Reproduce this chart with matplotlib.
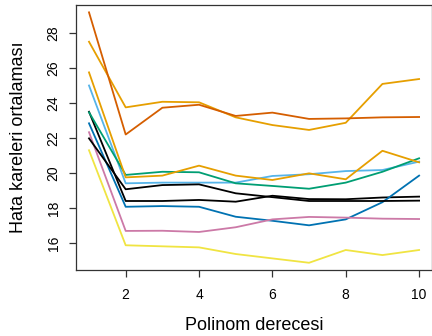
import matplotlib
matplotlib.use("Agg")
import matplotlib.pyplot as plt

plt.rcParams['font.family'] = ['Liberation Sans', 'DejaVu Sans']

degree = list(range(1, 11))

# one line per repetition of the CV split (Okabe-Ito colours, recycled)
mse = [
    [23.50, 18.40, 18.40, 18.46, 18.36, 18.70, 18.51, 18.50, 18.60, 18.65],
    [27.50, 23.75, 24.07, 24.04, 23.18, 22.74, 22.46, 22.87, 25.09, 25.37],
    [25.00, 19.41, 19.45, 19.45, 19.45, 19.83, 19.93, 20.11, 20.17, 20.65],
    [23.47, 19.89, 20.07, 20.04, 19.41, 19.26, 19.10, 19.45, 20.07, 20.84],
    [21.30, 15.87, 15.81, 15.75, 15.37, 15.12, 14.87, 15.60, 15.31, 15.60],
    [22.84, 18.07, 18.11, 18.07, 17.50, 17.27, 17.01, 17.35, 18.33, 19.85],
    [29.18, 22.20, 23.73, 23.90, 23.26, 23.45, 23.09, 23.12, 23.18, 23.20],
    [22.33, 16.69, 16.70, 16.63, 16.90, 17.35, 17.49, 17.45, 17.39, 17.37],
    [21.98, 19.07, 19.31, 19.35, 18.84, 18.62, 18.40, 18.40, 18.40, 18.42],
    [25.75, 19.75, 19.85, 20.42, 19.85, 19.60, 19.98, 19.64, 21.27, 20.61],
]
colors = ['black', '#E69F00', '#56B4E9', '#009E73', '#F0E442',
          '#0072B2', '#D55E00', '#CC79A7', 'black', '#E69F00']

fig = plt.figure(figsize=(4.32, 3.36), dpi=100)
ax = fig.add_axes([75.8 / 432, 66 / 336, 356.5 / 432, 265 / 336])

for y, c in zip(mse, colors):
    ax.plot(degree, y, color=c, lw=1.3)

ax.set_xlim(0.64, 10.36)
ax.set_ylim(14.457, 29.6)
ax.set_xticks([2, 4, 6, 8, 10])
ax.set_yticks([16, 18, 20, 22, 24, 26, 28])
ax.tick_params(direction='out', length=5, width=0.9, labelsize=10, color='#333333')
ax.tick_params(axis='x', pad=8)
ax.tick_params(axis='y', pad=6)
for lab in ax.get_yticklabels():
    lab.set_rotation(90)
    lab.set_va('center')
for s in ax.spines.values():
    s.set_color('#333333')
    s.set_linewidth(0.9)

ax.set_xlabel('Polinom derecesi', fontsize=13, labelpad=11)
ax.set_ylabel('Hata kareleri ortalaması', fontsize=13, labelpad=14)

fig.savefig('out.png', dpi=100)
